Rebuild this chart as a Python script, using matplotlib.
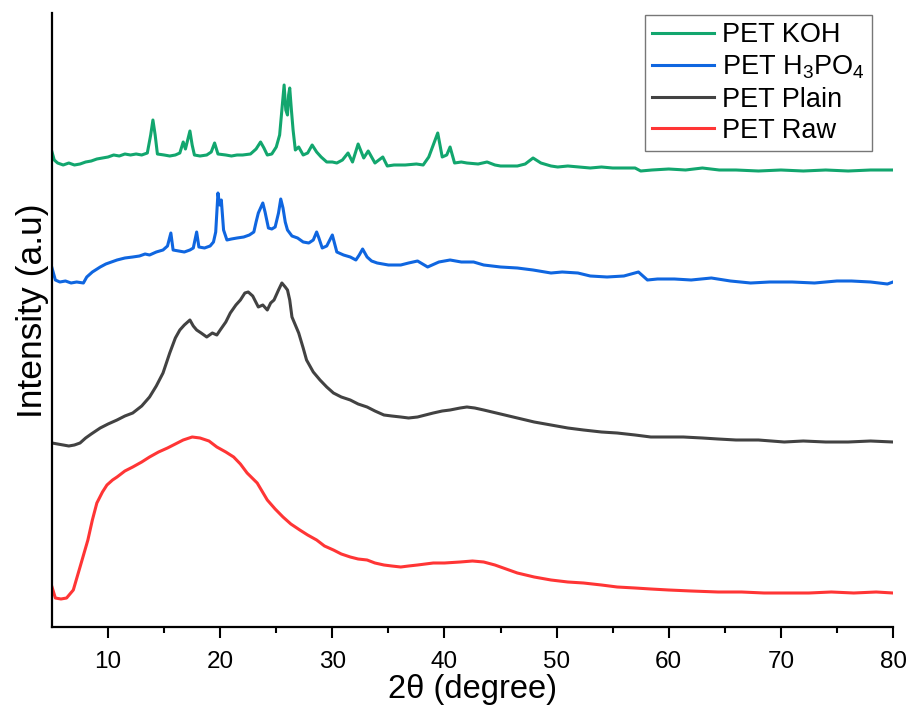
import matplotlib
matplotlib.use("Agg")
import matplotlib.pyplot as plt

plt.rcParams['font.family'] = ['Liberation Sans', 'DejaVu Sans']
plt.rcParams['mathtext.default'] = 'regular'

# XRD patterns (2theta in degrees, stacked intensity in a.u.)
koh_pts = [(5.0,475),(5.2,467),(5.5,464),(6.0,462),(6.5,464),(7.0,462),(7.5,463),(8.0,465),(8.5,466),(9.0,468),
           (9.5,469),(10.0,470),(10.5,472),(11.0,471),(11.5,473),(12.0,472),(12.5,473),(13.0,472),(13.5,474),(13.8,492),
           (14.0,507),(14.2,492),(14.4,473),(15.0,472),(15.5,471),(16.0,472),(16.4,474),(16.7,485),(16.9,478),(17.1,487),
           (17.3,496),(17.5,482),(17.7,472),(18.2,471),(18.8,472),(19.2,475),(19.5,484),(19.8,473),(20.5,472),(21.0,471),
           (21.5,472),(22.0,472),(22.7,473),(23.2,478),(23.6,485),(23.9,479),(24.2,472),(24.6,473),(25.0,480),(25.3,492),
           (25.5,517),(25.7,542),(25.85,517),(26.0,512),(26.1,532),(26.2,539),(26.35,517),(26.5,497),(26.7,477),(27.0,480),
           (27.4,472),(27.8,474),(28.2,482),(28.6,475),(29.0,470),(29.5,465),(30.0,465),(30.4,464),(30.9,467),(31.4,474),
           (31.8,465),(32.3,483),(32.8,469),(33.2,476),(33.8,464),(34.5,470),(34.9,461),(35.5,462),(36.5,462),(37.5,463),
           (38.1,462),(38.6,470),(39.0,482),(39.4,494),(39.8,470),(40.2,472),(40.5,480),(40.9,464),(41.5,465),(42.0,464),
           (43.0,463),(43.8,465),(44.5,462),(45.0,461),(46.0,461),(46.5,461),(47.2,463),(47.9,469),(48.6,464),(49.5,461),
           (50.1,460),(51.0,461),(52.0,460),(53.0,459),(54.0,460),(55.0,459),(56.0,459),(57.0,459),(57.5,456),(58.5,457),
           (60.0,458),(61.5,457),(63.0,459),(64.5,457),(66.0,457),(68.0,456),(70.0,457),(72.0,456),(74.0,457),(76.0,456),
           (78.0,457),(80.0,457)]

h3po4_pts = [(5.0,359),(5.3,347),(5.7,345),(6.2,346),(6.7,344),(7.2,345),(7.8,344),(8.1,350),(8.6,355),(9.3,360),
             (9.8,363),(10.3,365),(10.8,367),(11.5,369),(12.2,370),(12.8,371),(13.3,373),(13.7,372),(14.3,375),(14.9,377),
             (15.3,381),(15.6,394),(15.8,377),(16.3,376),(16.8,375),(17.3,377),(17.6,379),(17.9,395),(18.1,380),(18.6,379),
             (19.1,381),(19.4,385),(19.6,395),(19.8,434),(19.95,422),(20.1,427),(20.3,397),(20.6,387),(21.0,388),(21.5,389),
             (22.1,390),(22.6,392),(23.0,395),(23.2,405),(23.4,414),(23.6,419),(23.8,424),(24.0,415),(24.3,399),(24.6,398),
             (24.9,400),(25.2,414),(25.4,428),(25.6,419),(25.8,405),(26.0,397),(26.4,391),(26.9,389),(27.4,385),(27.9,384),
             (28.3,387),(28.6,395),(28.8,389),(29.1,379),(29.5,381),(30.0,392),(30.4,375),(31.0,372),(31.6,370),(32.1,367),
             (32.4,372),(32.7,378),(33.1,370),(33.5,366),(34.0,364),(35.0,362),(36.1,362),(36.8,364),(37.6,366),(38.5,360),
             (39.5,365),(40.5,367),(41.5,365),(42.6,365),(43.5,362),(45.0,360),(46.5,359),(47.9,357),(49.5,354),(50.5,355),
             (51.9,354),(53.0,351),(54.5,350),(56.0,351),(57.3,355),(57.7,351),(58.1,347),(59.0,348),(60.5,348),(62.0,347),
             (63.8,349),(65.5,346),(67.3,344),(69.0,345),(71.0,345),(73.0,344),(75.0,346),(76.3,346),(78.0,345),(79.5,343),
             (80.0,345)]

plain_pts = [(5.0,184),(5.5,183),(6.0,182),(6.5,181),(7.0,182),(7.5,184),(8.0,189),(8.5,193),(9.3,199),(10.0,203),
             (10.8,207),(11.5,211),(12.2,214),(13.0,221),(13.7,230),(14.3,241),(14.9,254),(15.5,274),(16.0,289),(16.4,297),
             (16.8,302),(17.3,307),(17.6,301),(17.9,297),(18.3,294),(18.8,290),(19.3,294),(19.7,292),(20.0,297),(20.5,305),
             (20.9,314),(21.4,322),(21.8,327),(22.2,334),(22.5,335),(22.9,331),(23.4,320),(23.8,322),(24.2,317),(24.5,324),
             (24.8,327),(25.2,337),(25.5,344),(25.8,340),(26.0,337),(26.2,327),(26.4,310),(26.7,302),(27.0,294),(27.4,279),
             (27.7,267),(28.3,255),(28.9,247),(29.5,240),(30.1,234),(30.8,230),(31.6,227),(32.3,223),(33.1,220),(33.8,216),
             (34.6,212),(35.3,211),(36.1,210),(36.8,209),(37.6,210),(38.3,212),(39.0,214),(39.8,216),(40.5,217),(41.4,219),
             (42.0,220),(42.7,219),(43.5,217),(45.0,213),(46.5,209),(48.0,205),(49.5,202),(51.0,199),(52.4,197),(54.0,195),
             (55.4,194),(57.0,192),(58.4,190),(60.0,190),(61.3,190),(63.0,189),(64.4,188),(66.0,187),(68.0,187),(70.3,185),
             (72.0,186),(74.0,185),(76.0,185),(78.0,186),(80.0,185)]

raw_pts = [(5.0,40),(5.3,29),(5.8,28),(6.3,29),(6.9,37),(7.5,60),(8.2,87),(8.6,107),(9.0,124),(9.5,135),
           (9.9,142),(10.4,147),(10.8,150),(11.5,156),(12.2,160),(13.0,165),(13.7,170),(14.5,175),(15.3,179),(16.0,183),
           (16.7,187),(17.5,190),(18.2,189),(19.0,186),(19.7,180),(20.5,175),(21.2,170),(21.8,163),(22.4,154),(23.3,144),
           (24.2,127),(24.9,118),(25.6,110),(26.3,103),(27.1,97),(27.8,92),(28.6,87),(29.3,81),(30.1,77),(30.8,73),
           (31.6,70),(32.3,68),(33.1,67),(33.8,64),(34.6,62),(35.3,61),(36.1,60),(36.8,61),(37.6,62),(38.3,63),
           (39.0,64),(40.0,64),(41.4,65),(42.5,66),(43.5,65),(44.5,62),(45.5,58),(46.5,54),(48.0,50),(49.5,47),
           (51.0,45),(52.4,44),(54.0,42),(55.4,40),(57.0,39),(58.4,38),(60.0,37),(62.0,36),(64.4,35),(66.5,35),
           (68.5,34),(70.3,34),(72.5,34),(74.5,35),(76.5,34),(78.5,35),(80.0,34)]

labels = ['PET KOH', 'PET H$_{3}$PO$_{4}$', 'PET Plain', 'PET Raw']
colors = ['#12a66e', '#0f66e0', '#424242', '#ff3535']
series = [koh_pts, h3po4_pts, plain_pts, raw_pts]
xticks = [10, 20, 30, 40, 50, 60, 70, 80]

fig = plt.figure(figsize=(9.1, 7.06), dpi=100)
ax = fig.add_axes([52/910, 1-627/706, (893-52)/910, (627-13)/706])

for pts, lab, col in zip(series, labels, colors):
    xs = [p[0] for p in pts]
    ys = [p[1] for p in pts]
    ax.plot(xs, ys, color=col, lw=2.2, label=lab)

ax.set_xlim(5, 80)
ax.set_ylim(0, 614)
ax.set_xticks(xticks)
ax.set_xticks([15, 25, 35, 45, 55, 65, 75], minor=True)
ax.set_yticks([])
ax.tick_params(axis='x', which='major', direction='out', length=8, width=1.5, labelsize=17.5, pad=9)
ax.tick_params(axis='x', which='minor', direction='out', length=4, width=1.5)
for s in ['top', 'right']:
    ax.spines[s].set_visible(False)
for s in ['left', 'bottom']:
    ax.spines[s].set_linewidth(1.6)

ax.set_xlabel('2θ (degree)', fontsize=23.5, labelpad=1)
ax.set_ylabel('Intensity (a.u)', fontsize=25.5, labelpad=2, y=0.515)

leg = ax.legend(loc='upper right', bbox_to_anchor=(0.975, 0.996), fontsize=19.5,
                frameon=True, fancybox=False, edgecolor='#555555', handlelength=2.3,
                labelspacing=0.2, borderpad=0.25, handletextpad=0.3, borderaxespad=0)
leg.get_frame().set_linewidth(1.0)

fig.savefig('out.png', dpi=100)
